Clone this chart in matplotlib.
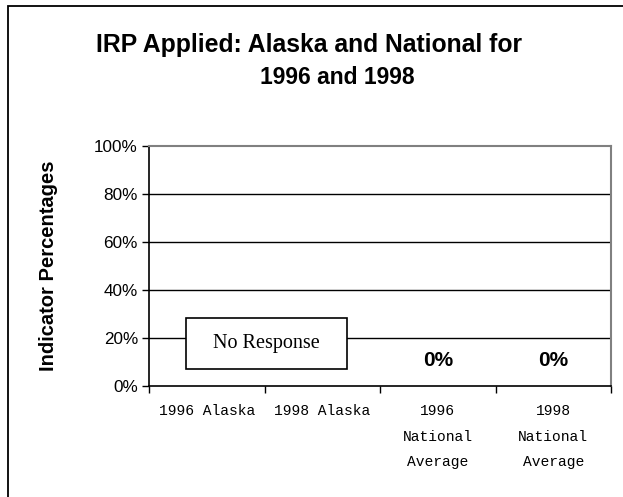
import matplotlib
matplotlib.use("Agg")
import matplotlib.pyplot as plt
import numpy as np
from matplotlib.patches import Rectangle

categories = ["1996 Alaska", "1998 Alaska", "1996\nNational\nAverage", "1998\nNational\nAverage"]
values = [np.nan, np.nan, 0, 0]
value_labels = ["", "", "0%", "0%"]
yticks = [0, 20, 40, 60, 80, 100]
ytick_labels = ["0%", "20%", "40%", "60%", "80%", "100%"]
title_line1 = "IRP Applied: Alaska and National for"
title_line2 = "1996 and 1998"
ylabel = "Indicator Percentages"
note = "No Response"

W, H = 623, 497
fig = plt.figure(figsize=(W / 100, H / 100), dpi=100)
fig.patch.set_facecolor("white")

# outer frame
fig.patches.append(Rectangle((8 / W, -0.1), 1.2, 1.1 - 6 / H, transform=fig.transFigure,
                             fill=False, edgecolor="black", linewidth=1.3, zorder=0))

ax = fig.add_axes([149 / W, 1 - 386 / H, (611 - 149) / W, (386 - 146) / H])
x = np.arange(len(categories))
ax.bar(x, np.nan_to_num(values), width=0.5, color="#9999ff")
ax.set_xlim(-0.5, len(categories) - 0.5)
ax.set_ylim(0, 100)

for yv in yticks[1:-1]:
    ax.axhline(yv, color="black", linewidth=1.0, zorder=0.5)

ax.spines["top"].set_color("#808080")
ax.spines["right"].set_color("#808080")
ax.spines["top"].set_linewidth(1.5)
ax.spines["right"].set_linewidth(1.5)
ax.spines["left"].set_linewidth(1.2)
ax.spines["bottom"].set_linewidth(1.2)

ax.set_yticks(yticks)
ax.set_yticklabels(ytick_labels, fontfamily="Liberation Sans", fontsize=12.3)
ax.tick_params(axis="y", direction="out", length=5, width=1, pad=3)

ax.set_xticks(x)
ax.set_xticklabels(categories, fontfamily="Liberation Mono", fontsize=10.5, linespacing=2.05, va="top")
ax.set_xticks(np.arange(len(categories) + 1) - 0.5, minor=True)
ax.tick_params(axis="x", which="major", length=0, pad=13)
ax.tick_params(axis="x", which="minor", direction="out", length=5, width=1)

for xi, v, lab in zip(x, values, value_labels):
    if lab:
        ax.annotate(lab, (xi, v), xytext=(0, 18), textcoords="offset points",
                    ha="center", va="center", fontfamily="Liberation Sans",
                    fontweight="bold", fontsize=15)

ax.set_ylabel(ylabel, fontfamily="Liberation Sans", fontweight="bold", fontsize=14.5, labelpad=26)

# "No Response" box (annotation)
bx0, bx1 = (186 - 149) / (611 - 149), (347 - 149) / (611 - 149)
by0, by1 = (386 - 369) / 240, (386 - 318) / 240
ax.add_patch(Rectangle((bx0, by0), bx1 - bx0, by1 - by0, transform=ax.transAxes,
                       facecolor="white", edgecolor="black", linewidth=1.2, zorder=3))
ax.text((bx0 + bx1) / 2, (by0 + by1) / 2, note, transform=ax.transAxes, ha="center", va="center",
        fontfamily="Liberation Serif", fontsize=14.5, zorder=4)

fig.text(309 / W, 1 - 45 / H, title_line1, ha="center", va="center",
         fontfamily="Liberation Sans", fontweight="bold", fontsize=17.8)
fig.text(337 / W, 1 - 78 / H, title_line2, ha="center", va="center",
         fontfamily="Liberation Sans", fontweight="bold", fontsize=16.5)

fig.savefig("out.png", dpi=100, facecolor="white")
